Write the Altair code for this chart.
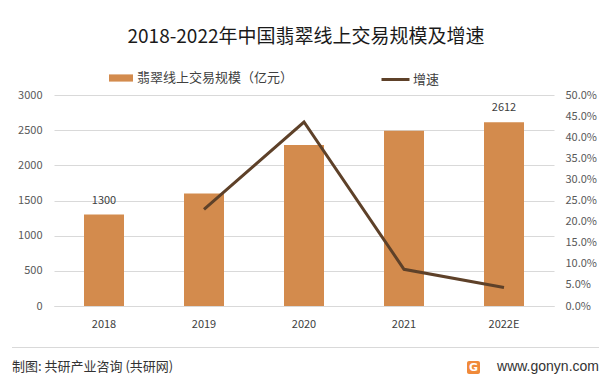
import altair as alt
import pandas as pd

years = ["2018", "2019", "2020", "2021", "2022E"]
scale_values = [1300, 1600, 2290, 2490, 2612]
bar_labels = ["1300", "", "", "", "2612"]
growth_years = ["2019", "2020", "2021", "2022E"]
growth_values = [0.229, 0.436, 0.087, 0.044]

bar_name = "翡翠线上交易规模（亿元）"
line_name = "增速"
title_text = "2018-2022年中国翡翠线上交易规模及增速"
source_text = "制图: 共研产业咨询 (共研网)"
site_text = "www.gonyn.com"

BAR_COLOR = "#D38B4D"
LINE_COLOR = "#5E4129"
GRID = "#D9D9D9"
FONT = "Noto Sans CJK SC"

bars_df = pd.DataFrame({"year": years, "value": scale_values, "label": bar_labels, "series": bar_name})
line_df = pd.DataFrame({"year": growth_years, "growth": growth_values, "series": line_name})

x_enc = alt.X(
    "year:N",
    sort=years,
    scale=alt.Scale(domain=years, paddingInner=0.6, paddingOuter=0.3),
    axis=alt.Axis(title=None, labelAngle=0, ticks=False, domain=True, domainColor=GRID,
                  labelPadding=12, labelFontSize=11, labelColor="#404040", labelFont=FONT),
)

left_axis = alt.Axis(title=None, values=[0, 500, 1000, 1500, 2000, 2500, 3000], format="d",
                     labelOverlap=False, ticks=False, domain=False,
                     grid=True, gridColor=GRID, labelPadding=12, labelFontSize=11,
                     labelColor="#595959", labelFont=FONT)

bars = alt.Chart(bars_df).mark_bar().encode(
    x=x_enc,
    y=alt.Y("value:Q", scale=alt.Scale(domain=[0, 3000], nice=False), axis=left_axis),
    color=alt.Color("series:N", scale=alt.Scale(domain=[bar_name], range=[BAR_COLOR]),
                    legend=alt.Legend(title=None, orient="none", legendX=55, legendY=-29, padding=0,
                                      symbolType="M-1,-0.3H1V0.3H-1Z", symbolSize=576,
                                      symbolStrokeWidth=0, labelFontSize=13, labelFont=FONT,
                                      labelColor="#404040", labelOffset=4)),
)

bar_text = alt.Chart(bars_df).mark_text(baseline="middle", dy=-14, fontSize=11, font=FONT, color="#404040").encode(
    x=alt.X("year:N", sort=years),
    y=alt.Y("value:Q", axis=left_axis),
    text="label:N",
)

left = alt.layer(bars, bar_text)

line = alt.Chart(line_df).mark_line(strokeWidth=3).encode(
    x=alt.X("year:N", sort=years),
    y=alt.Y("growth:Q", scale=alt.Scale(domain=[0, 0.5], nice=False),
            axis=alt.Axis(title=None, orient="right", format=".1%",
                          values=[0, 0.05, 0.1, 0.15, 0.2, 0.25, 0.3, 0.35, 0.4, 0.45, 0.5],
                          labelOverlap=False, ticks=False, domain=False, grid=False, labelPadding=11,
                          labelFontSize=11, labelColor="#595959", labelFont=FONT)),
    stroke=alt.Stroke("series:N", scale=alt.Scale(domain=[line_name], range=[LINE_COLOR]),
                      legend=alt.Legend(title=None, orient="none", legendX=326, legendY=-31, padding=0,
                                        symbolType="stroke", symbolSize=784, symbolStrokeWidth=3,
                                        labelFontSize=13, labelFont=FONT, labelColor="#404040",
                                        labelOffset=2)),
)

title = alt.Chart(pd.DataFrame({"t": [title_text]})).mark_text(
    fontSize=19, font=FONT, fontWeight="normal", color="#1A1A1A", align="center", baseline="middle"
).encode(text="t:N", x=alt.value(252), y=alt.value(-58))

sep = alt.Chart(pd.DataFrame({"a": [0]})).mark_rule(color="#D9D9D9", strokeWidth=1).encode(
    x=alt.value(-42), x2=alt.value(545), y=alt.value(252.5)
)

source = alt.Chart(pd.DataFrame({"t": [source_text]})).mark_text(
    fontSize=13, font=FONT, color="#333333", align="left", baseline="middle"
).encode(text="t:N", x=alt.value(-42), y=alt.value(272))

site = alt.Chart(pd.DataFrame({"t": [site_text]})).mark_text(
    fontSize=14, font="Liberation Sans", color="#333333", align="right", baseline="middle"
).encode(text="t:N", x=alt.value(545), y=alt.value(272))

logo = alt.Chart(pd.DataFrame({"a": [0]})).mark_rect(color="#F08A3A", cornerRadius=2).encode(
    x=alt.value(413), x2=alt.value(426), y=alt.value(266), y2=alt.value(279)
)
logo_g = alt.Chart(pd.DataFrame({"t": ["G"]})).mark_text(
    fontSize=11, font="DejaVu Sans", fontWeight="bold", color="white", align="center", baseline="middle"
).encode(text="t:N", x=alt.value(419.5), y=alt.value(273))

main = alt.layer(left, line).resolve_scale(y="independent", color="independent")

chart = alt.layer(main, title, sep, source, site, logo, logo_g).properties(
    width=500,
    height=211,
    autosize=alt.AutoSizeParams(type="none"),
    padding={"left": 46, "top": 87, "right": 50, "bottom": 71},
    background="white",
).configure_view(stroke=None)

chart.save("out.html", embed_options={"renderer": "svg", "actions": False})
